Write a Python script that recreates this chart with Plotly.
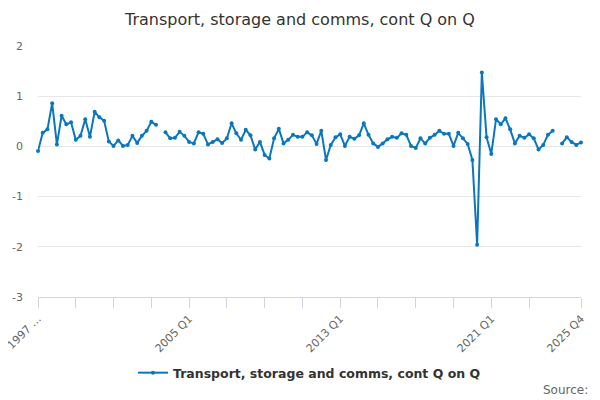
import plotly.graph_objects as go

start_year = 1997
quarters = [f"{start_year + k // 4} Q{k % 4 + 1}" for k in range(116)]

values = [
    -0.09, 0.27, 0.34, 0.86, 0.04, 0.61, 0.44, 0.48, 0.13, 0.21,
    0.54, 0.19, 0.69, 0.58, 0.51, 0.10, 0.01, 0.12, 0.01, 0.03,
    0.21, 0.07, 0.21, 0.31, 0.49, 0.43, None, 0.28, 0.16, 0.17,
    0.29, 0.21, 0.09, 0.06, 0.28, 0.25, 0.04, 0.09, 0.14, 0.07,
    0.16, 0.46, 0.26, 0.13, 0.33, 0.22, -0.06, 0.09, -0.17, -0.24,
    0.16, 0.35, 0.06, 0.13, 0.23, 0.19, 0.19, 0.28, 0.22, 0.05,
    0.31, -0.27, 0.03, 0.18, 0.24, 0.01, 0.19, 0.15, 0.22, 0.46,
    0.23, 0.06, -0.01, 0.06, 0.14, 0.19, 0.17, 0.26, 0.23, 0.01,
    -0.03, 0.16, 0.06, 0.17, 0.23, 0.31, 0.25, 0.25, 0.01, 0.27,
    0.16, 0.05, -0.27, -1.96, 1.47, 0.18, -0.15, 0.54, 0.44, 0.56,
    0.34, 0.06, 0.21, 0.17, 0.24, 0.16, -0.06, 0.03, 0.23, 0.31,
    None, 0.06, 0.18, 0.09, 0.03, 0.08,
]

tick_idx = list(range(0, 105, 8)) + [115]
tick_vals = [quarters[k] for k in tick_idx]
labelled = {0: "1997 \u2026", 32: "2005 Q1", 64: "2013 Q1", 96: "2021 Q1", 115: "2025 Q4"}
tick_text = [labelled.get(k, "") for k in tick_idx]

y_vals = [2, 1, 0, -1, -2, -3]
y_text = ["2", "1", "0", "-1", "-2", "-3"]

series_name = "Transport, storage and comms, cont Q on Q"
title_text = "Transport, storage and comms, cont Q on Q"

color = "#0a77bd"
font = "DejaVu Sans"

fig = go.Figure()
fig.add_trace(go.Scatter(
    x=quarters, y=values, mode="lines+markers", name=series_name,
    line=dict(color=color, width=2),
    marker=dict(color=color, size=4),
    connectgaps=False, cliponaxis=False,
))

# page body has an 8px margin, so the figure is sized 592x392
fig.update_layout(
    width=592, height=392,
    paper_bgcolor="white", plot_bgcolor="white",
    margin=dict(l=30, r=19, t=38, b=103),
    font=dict(family=font, color="#666666", size=11),
    title=dict(text=title_text, x=0.4932, xanchor="center", xref="container",
               y=0.972, yanchor="middle", yref="container",
               font=dict(family=font, size=16, color="#333333")),
    showlegend=True,
    legend=dict(orientation="h", x=0.5, xanchor="center", y=-0.303, yanchor="middle",
                itemwidth=30,
                font=dict(family=font, size=12.5, color="#333333", weight="bold")),
    xaxis=dict(
        type="category", range=[0, 115], automargin=False,
        tickmode="array", tickvals=tick_vals, ticktext=tick_text,
        tickangle=-45, ticks="outside", ticklen=10, tickcolor="#ccd6eb",
        showline=True, linecolor="#ccd6eb", linewidth=1,
        showgrid=False, zeroline=False,
        tickfont=dict(family=font, size=11, color="#666666"),
    ),
    yaxis=dict(
        range=[-3, 2], tickmode="array", tickvals=y_vals, ticktext=y_text,
        automargin=False,
        showgrid=True, gridcolor="#e6e6e6", gridwidth=1, zeroline=False,
        showline=False, ticks="", ticklabelstandoff=14,
        tickfont=dict(family=font, size=11, color="#666666"),
    ),
)

fig.add_annotation(text="Source:", xref="paper", yref="paper", x=1.0166, y=-0.37,
                   xanchor="right", yanchor="middle", showarrow=False,
                   font=dict(family=font, size=12, color="#666666"))

fig.write_html("out.html")
